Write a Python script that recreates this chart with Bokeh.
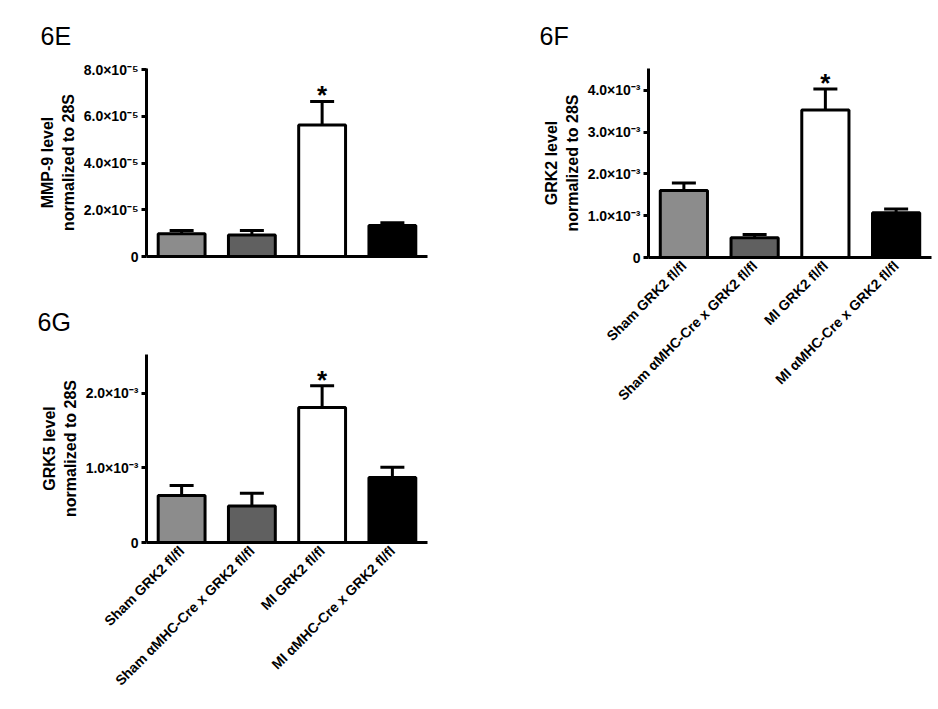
import math
from bokeh.plotting import figure
from bokeh.models import ColumnDataSource, Whisker, TeeHead, FactorRange, Range1d, FixedTicker
from bokeh.layouts import row, column
from bokeh.core.properties import value
from bokeh.embed import file_html
from bokeh.resources import INLINE

# ---------------- data ----------------
categories = ["Sham GRK2 fl/fl", "Sham \u03b1MHC-Cre x GRK2 fl/fl",
              "MI GRK2 fl/fl", "MI \u03b1MHC-Cre x GRK2 fl/fl"]
bar_colors = ["#8c8c8c", "#606060", "#ffffff", "#000000"]
significant = [False, False, True, False]

mmp9_mean = [0.97e-5, 0.92e-5, 5.63e-5, 1.33e-5]
mmp9_sem = [0.14e-5, 0.19e-5, 1.01e-5, 0.12e-5]
grk2_mean = [1.60e-3, 0.47e-3, 3.53e-3, 1.07e-3]
grk2_sem = [0.18e-3, 0.08e-3, 0.50e-3, 0.09e-3]
grk5_mean = [0.63e-3, 0.49e-3, 1.81e-3, 0.87e-3]
grk5_sem = [0.135e-3, 0.17e-3, 0.29e-3, 0.14e-3]

mmp9_ticks = [0, 2e-5, 4e-5, 6e-5, 8e-5]
mmp9_tick_labels = ["0", "2.0\u00d710\u207b\u2075", "4.0\u00d710\u207b\u2075",
                    "6.0\u00d710\u207b\u2075", "8.0\u00d710\u207b\u2075"]
grk2_ticks = [0, 1e-3, 2e-3, 3e-3, 4e-3]
grk2_tick_labels = ["0", "1.0\u00d710\u207b\u00b3", "2.0\u00d710\u207b\u00b3",
                    "3.0\u00d710\u207b\u00b3", "4.0\u00d710\u207b\u00b3"]
grk5_ticks = [0, 1e-3, 2e-3]
grk5_tick_labels = ["0", "1.0\u00d710\u207b\u00b3", "2.0\u00d710\u207b\u00b3"]

FONT = "Liberation Sans"


def make_panel(title, ylabel, mean, sem, ticks, tick_labels, ymax, show_x,
               width, height, b_left, b_right, b_top, b_bottom, title_offset, title_standoff):
    p = figure(x_range=FactorRange(*categories), y_range=Range1d(0, ymax),
               width=width, height=height, output_backend="svg",
               toolbar_location=None, tools="",
               min_border_left=b_left, min_border_right=b_right,
               min_border_top=b_top, min_border_bottom=b_bottom)
    p.title.text = title
    p.title.text_font = FONT
    p.title.text_font_size = "25px"
    p.title.text_font_style = "normal"
    p.title.text_color = "black"
    p.title.align = "left"
    p.title.vertical_align = "bottom"
    p.title.offset = title_offset
    p.title.standoff = title_standoff
    p.outline_line_color = None
    p.grid.visible = False
    p.background_fill_color = "white"
    p.border_fill_color = "white"

    upper = [m + s for m, s in zip(mean, sem)]
    src = ColumnDataSource(dict(cat=categories, mean=mean, upper=upper, color=bar_colors))
    p.vbar(x="cat", top="mean", bottom=0, width=0.667, source=src,
           fill_color="color", line_color="black", line_width=3)
    w = Whisker(source=src, base="cat", upper="upper", lower="mean",
                upper_head=TeeHead(size=24, line_width=3, line_color="black"),
                lower_head=None, line_width=3, line_color="black", level="glyph")
    p.add_layout(w)

    star_src = ColumnDataSource(dict(
        cat=[c for c, s in zip(categories, significant) if s],
        y=[u for u, s in zip(upper, significant) if s],
        t=["*" for s in significant if s]))
    p.text(x="cat", y="y", text="t", source=star_src, text_align="center",
           text_baseline="alphabetic", y_offset=-6, text_font=value(FONT),
           text_font_style="bold", text_font_size="26px", text_color="black")

    ya = p.yaxis[0]
    ya.ticker = FixedTicker(ticks=ticks)
    ya.major_label_overrides = {t: l for t, l in zip(ticks, tick_labels)}
    ya.minor_tick_line_color = None
    ya.axis_line_width = 3
    ya.major_tick_line_width = 3
    ya.major_tick_out = 5
    ya.major_tick_in = 0
    ya.major_label_standoff = 3
    ya.major_label_text_font = FONT
    ya.major_label_text_font_style = "bold"
    ya.major_label_text_font_size = "14px"
    ya.major_label_text_color = "black"
    ya.axis_label = ylabel
    ya.axis_label_text_font = FONT
    ya.axis_label_text_font_style = "bold"
    ya.axis_label_text_font_size = "16px"
    ya.axis_label_text_color = "black"
    ya.axis_label_standoff = 4

    xa = p.xaxis[0]
    xa.axis_line_width = 3
    xa.major_tick_out = 0
    xa.major_tick_in = 0
    xa.major_tick_line_color = None
    xa.major_label_text_font = FONT
    xa.major_label_text_font_style = "bold"
    xa.major_label_text_font_size = "14px"
    if show_x:
        xa.major_label_text_color = "black"
        xa.major_label_orientation = math.pi / 4
        xa.major_label_standoff = 6
    else:
        xa.major_label_text_color = None
    return p


pE = make_panel("6E", "MMP-9 level\nnormalized to 28S", mmp9_mean, mmp9_sem,
                mmp9_ticks, mmp9_tick_labels, 8.05e-5, False,
                448, 286, 143, 21, 68, 30, -106, 38)
pG = make_panel("6G", "GRK5 level\nnormalized to 28S", grk5_mean, grk5_sem,
                grk5_ticks, grk5_tick_labels, 2.52e-3, True,
                448, 415, 146, 18, 68, 159, -109, 38)
pF = make_panel("6F", "GRK2 level\nnormalized to 28S", grk2_mean, grk2_sem,
                grk2_ticks, grk2_tick_labels, 4.52e-3, True,
                488, 420, 200, 5, 68, 163, -109, 38)

layout = row(column(pE, pG), pF)

open("out.html", "w").write(file_html(layout, INLINE))
